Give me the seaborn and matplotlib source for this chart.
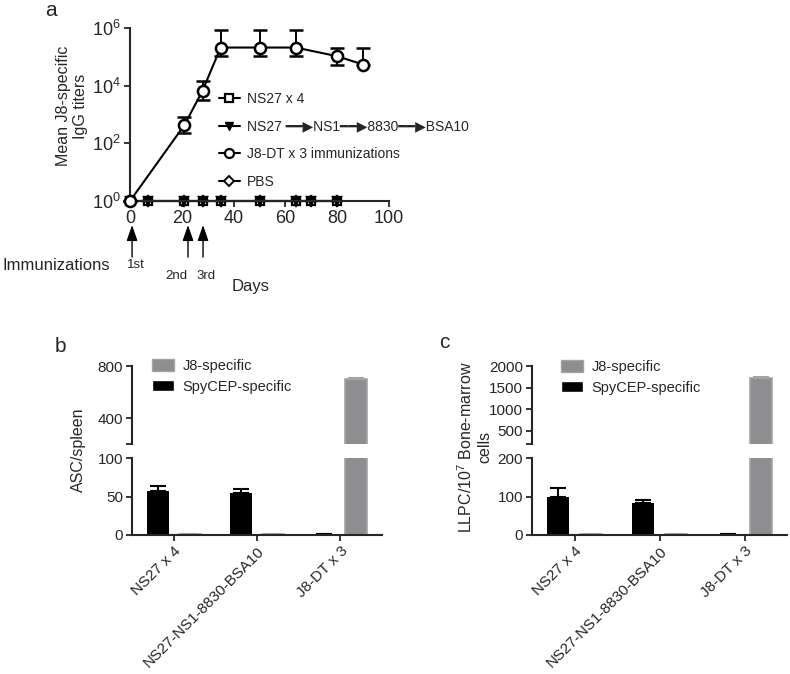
import numpy as np
import pandas as pd
import matplotlib
matplotlib.use("Agg")
import matplotlib.pyplot as plt
import seaborn as sns
from matplotlib.container import BarContainer
from matplotlib.lines import Line2D
from matplotlib.patches import Patch

# panel a: mean J8-specific IgG titers over time
control_days = [0, 7, 21, 28, 35, 50, 64, 70, 80]
control_titers = [1, 1, 1, 1, 1, 1, 1, 1, 1]
j8dt_days = [0, 21, 28, 35, 50, 64, 80, 90]
j8dt_titers = [1, 430, 6700, 2.1e5, 2.1e5, 2.1e5, 1.05e5, 5.4e4]
j8dt_low = [1, 220, 3300, 1.1e5, 1.1e5, 1.1e5, 5.4e4, 5.4e4]
j8dt_high = [1, 850, 14000, 8.3e5, 8.3e5, 8.3e5, 2.1e5, 2.1e5]
immunization_days = [0.8, 22.4, 28.2]
immunization_labels = ["1st", "2nd", "3rd"]

# panels b and c: ASC per spleen, LLPC per 10^7 bone-marrow cells
groups = ["NS27 x 4", "NS27-NS1-8830-BSA10", "J8-DT x 3"]
asc_spycep = [57, 55, 1]
asc_spycep_err = [7, 5, 0.5]
asc_j8 = [1, 1, 700]
asc_j8_err = [0, 0, 10]
llpc_spycep = [98, 84, 2]
llpc_spycep_err = [24, 6, 1]
llpc_j8 = [2, 2, 1730]
llpc_j8_err = [0, 0, 20]

GRAY = "#8e8e90"
GRAY_EDGE = "#a4a4a6"

sns.set_style("ticks")
plt.rcParams["font.family"] = ["Liberation Sans", "DejaVu Sans"]
plt.rcParams["mathtext.default"] = "regular"
plt.rcParams["axes.linewidth"] = 1.5
plt.rcParams["xtick.major.width"] = 1.3
plt.rcParams["ytick.major.width"] = 1.3
plt.rcParams["xtick.major.size"] = 4
plt.rcParams["ytick.major.size"] = 4
plt.rcParams["xtick.major.pad"] = 2.5
plt.rcParams["ytick.major.pad"] = 2.5

W, H = 790, 674
fig = plt.figure(figsize=(W / 100, H / 100), dpi=100)


def box(left, top, right, bottom):
    return [left / W, 1 - bottom / H, (right - left) / W, (bottom - top) / H]


# ---------------- panel a ----------------
ax = fig.add_axes(box(130, 28, 389, 201))
line_kw = dict(color="black", lw=1.5, mec="black", mew=1.6, clip_on=False)
series = pd.DataFrame({"day": j8dt_days, "titer": j8dt_titers})
sns.lineplot(data=series, x="day", y="titer", ax=ax, color="black", lw=1.5)
ax.errorbar(j8dt_days, j8dt_titers,
            yerr=[np.array(j8dt_titers) - np.array(j8dt_low),
                  np.array(j8dt_high) - np.array(j8dt_titers)],
            fmt="o", ms=8, mfc="white", mec="black", mew=1.8, ecolor="black",
            elinewidth=1.4, capsize=5, capthick=1.4, clip_on=False, zorder=4)
ax.plot(control_days, control_titers, marker="D", ms=5, mfc="white", **line_kw)
ax.plot(control_days, control_titers, marker="s", ms=6, mfc="white", **line_kw)
ax.plot(control_days, control_titers, marker="v", ms=6, mfc="black", **line_kw)
ax.set_yscale("log")
ax.set_xlim(0, 100)
ax.set_ylim(1, 1e6)
ax.set_xticks([0, 20, 40, 60, 80, 100])
ax.set_yticks([1, 1e2, 1e4, 1e6])
ax.set_yticklabels([r"10$^{0}$", r"10$^{2}$", r"10$^{4}$", r"10$^{6}$"])
ax.minorticks_off()
ax.tick_params(labelsize=13)
ax.set_xlabel("")
ax.set_ylabel("")
sns.despine(ax=ax)

handles = [
    Line2D([], [], color="black", lw=1.5, marker="s", ms=6, mfc="white", mec="black", mew=1.6),
    Line2D([], [], color="black", lw=1.5, marker="v", ms=6, mfc="black", mec="black"),
    Line2D([], [], color="black", lw=1.5, marker="o", ms=6.5, mfc="white", mec="black", mew=1.6),
    Line2D([], [], color="black", lw=1.5, marker="D", ms=5, mfc="white", mec="black", mew=1.4),
]
labels = ["NS27 x 4",
          "NS27 \u2501\u2501\u25B6NS1\u2501\u2501\u25B68830\u2501\u2501\u25B6BSA10",
          "J8-DT x 3 immunizations", "PBS"]
fig.legend(handles, labels, loc="upper left", bbox_to_anchor=(219 / W, 1 - 92 / H),
           frameon=False, fontsize=10, handlelength=1.5, handletextpad=0.5,
           labelspacing=0.98, borderpad=0, borderaxespad=0)

for day in immunization_days:
    ax.annotate("", xy=(day, -0.139), xycoords=("data", "axes fraction"),
                xytext=(day, -0.324), textcoords=("data", "axes fraction"),
                arrowprops=dict(arrowstyle="-|>,head_length=0.95,head_width=0.33",
                                mutation_scale=10, color="black", lw=1.0,
                                shrinkA=0, shrinkB=0),
                annotation_clip=False)
for x, y, lab in zip([2.3, 17.8, 29.3], [265, 276, 276], immunization_labels):
    fig.text((130 + x * 2.59) / W, 1 - y / H, lab, ha="center", va="center",
             fontsize=9.5)
fig.text(2 / W, 1 - 265 / H, "Immunizations", fontsize=12, va="center")
fig.text(251 / W, 1 - 287 / H, "Days", fontsize=12, ha="center", va="center")
fig.text(72 / W, 1 - 106 / H, "Mean J8-specific\nIgG titers", fontsize=11.5,
         rotation=90, ha="center", va="center")
fig.text(51 / W, 1 - 11 / H, "a", fontsize=15, ha="center", va="center")


# ---------------- panels b and c ----------------
def bar_panel(left, right, spy, spy_err, j8, j8_err, low_max, low_ticks,
              up_min, up_max, up_ticks, up_labels):
    df = pd.DataFrame({
        "group": groups * 2,
        "spec": ["SpyCEP-specific"] * 3 + ["J8-specific"] * 3,
        "value": spy + j8,
    })
    errs = {"SpyCEP-specific": spy_err, "J8-specific": j8_err}
    ax_up = fig.add_axes(box(left, 366, right, 444))
    ax_lo = fig.add_axes(box(left, 458, right, 535))
    for a in (ax_up, ax_lo):
        sns.barplot(data=df, x="group", y="value", hue="spec",
                    hue_order=["SpyCEP-specific", "J8-specific"],
                    palette={"SpyCEP-specific": "black", "J8-specific": GRAY},
                    width=0.77, gap=0.31, errorbar=None, legend=False,
                    linewidth=0, ax=a)
        bars = [c for c in a.containers if isinstance(c, BarContainer)]
        for cont in bars:
            face = cont.patches[0].get_facecolor()
            spec = "SpyCEP-specific" if face[0] < 0.2 else "J8-specific"
            xs = [p.get_x() + p.get_width() / 2 for p in cont.patches]
            ys = [p.get_height() for p in cont.patches]
            col = "black" if spec == "SpyCEP-specific" else GRAY_EDGE
            if spec == "J8-specific":
                for p in cont.patches:
                    p.set_edgecolor(GRAY_EDGE)
                    p.set_linewidth(1.2)
            a.errorbar(xs, ys, yerr=[[0] * len(xs), errs[spec]], fmt="none",
                       ecolor=col, elinewidth=1.5, capsize=6, capthick=1.5)
        a.set_xlim(-0.5, 2.5)
        a.set_xlabel("")
        a.set_ylabel("")
        a.tick_params(labelsize=11)
    ax_lo.set_ylim(0, low_max)
    ax_lo.set_yticks(low_ticks)
    ax_lo.set_xticks(range(3))
    ax_lo.set_xticklabels(groups, rotation=45, ha="right", rotation_mode="anchor",
                          fontsize=11)
    sns.despine(ax=ax_lo)
    ax_up.set_ylim(up_min, up_max)
    ax_up.set_yticks(up_ticks)
    ax_up.set_yticklabels(up_labels)
    ax_up.set_xticks([])
    sns.despine(ax=ax_up, bottom=True)
    return ax_up, ax_lo


def bar_legend(x_px, y_px):
    fig.legend([Patch(facecolor=GRAY, edgecolor=GRAY_EDGE), Patch(facecolor="black")],
               ["J8-specific", "SpyCEP-specific"], loc="upper left",
               bbox_to_anchor=(x_px / W, 1 - y_px / H), frameon=False,
               fontsize=10.5, handlelength=1.5, handleheight=0.8,
               handletextpad=0.6, labelspacing=0.45, borderpad=0, borderaxespad=0)


bar_panel(132, 382, asc_spycep, asc_spycep_err, asc_j8, asc_j8_err,
          100, [0, 50, 100], 200, 800, [200, 400, 800], ["", "400", "800"])
bar_legend(152, 359)
fig.text(78 / W, 1 - 450 / H, "ASC/spleen", fontsize=11.5, rotation=90,
         ha="center", va="center")
fig.text(60 / W, 1 - 347 / H, "b", fontsize=15, ha="center", va="center")

bar_panel(532, 787, llpc_spycep, llpc_spycep_err, llpc_j8, llpc_j8_err,
          200, [0, 100, 200], 200, 2000, [200, 500, 1000, 1500, 2000],
          ["", "500", "1000", "1500", "2000"])
bar_legend(561, 360)
fig.text(474 / W, 1 - 447 / H, "LLPC/10$^{7}$ Bone-marrow\ncells", fontsize=11.5,
         rotation=90, ha="center", va="center")
fig.text(444 / W, 1 - 343 / H, "c", fontsize=15, ha="center", va="center")

fig.savefig("out.png", dpi=100)
